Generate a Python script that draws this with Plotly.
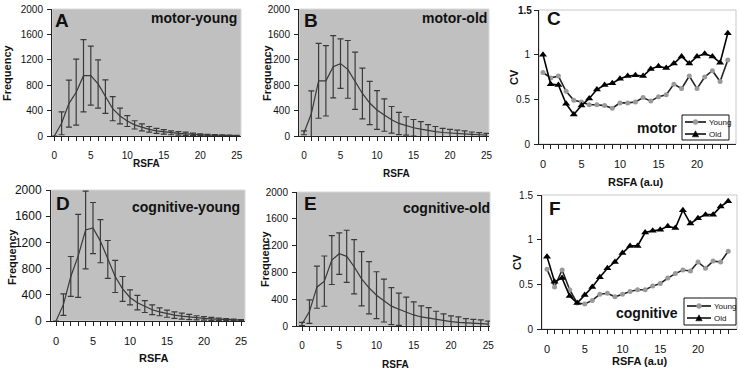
import plotly.graph_objects as go

W, H = 740, 373
FONT = "Arial, Liberation Sans, sans-serif"

rsfa = list(range(26))
rsfa_cv = list(range(25))

# Frequency means and SD (error bars)
motor_young = [0, 200, 510, 690, 950, 950, 820, 620, 430, 315, 235, 175, 135, 105, 80, 65, 50, 42, 35, 25, 20, 15, 12, 10, 8, 5]
motor_young_err = [0, 180, 370, 520, 570, 465, 380, 265, 190, 125, 85, 65, 55, 45, 40, 35, 30, 28, 25, 20, 15, 12, 10, 8, 6, 5]

motor_old = [50, 350, 870, 870, 1090, 1140, 1050, 870, 670, 520, 410, 330, 255, 198, 158, 130, 107, 85, 70, 55, 45, 37, 30, 25, 20, 15]
motor_old_err = [30, 360, 590, 555, 490, 390, 455, 450, 400, 340, 305, 255, 210, 175, 145, 130, 120, 95, 80, 65, 60, 55, 50, 38, 32, 25]

cog_young = [0, 250, 680, 995, 1390, 1420, 1220, 940, 680, 490, 360, 280, 220, 172, 140, 112, 90, 75, 60, 48, 40, 33, 27, 22, 17, 12]
cog_young_err = [0, 165, 305, 635, 595, 390, 330, 290, 245, 190, 115, 110, 90, 75, 60, 55, 50, 45, 40, 32, 28, 22, 18, 16, 12, 8]

cog_old = [30, 215, 580, 670, 985, 1080, 1040, 885, 705, 570, 460, 380, 297, 250, 205, 165, 135, 115, 95, 80, 66, 55, 45, 40, 35, 28]
cog_old_err = [25, 175, 315, 375, 365, 310, 390, 405, 405, 390, 350, 320, 275, 240, 225, 195, 165, 160, 125, 100, 85, 80, 65, 60, 55, 45]

# Coefficient of variation
cv_motor_young = [0.80, 0.74, 0.76, 0.59, 0.49, 0.47, 0.44, 0.44, 0.43, 0.40, 0.46, 0.46, 0.47, 0.52, 0.48, 0.53, 0.55, 0.67, 0.62, 0.76, 0.62, 0.75, 0.82, 0.70, 0.94]
cv_motor_old = [1.00, 0.67, 0.66, 0.45, 0.33, 0.43, 0.51, 0.61, 0.66, 0.68, 0.73, 0.76, 0.77, 0.76, 0.84, 0.87, 0.85, 0.90, 0.98, 0.90, 0.98, 1.01, 0.98, 0.91, 1.24]
cv_cog_young = [0.67, 0.47, 0.66, 0.44, 0.29, 0.28, 0.32, 0.39, 0.40, 0.36, 0.39, 0.42, 0.44, 0.44, 0.48, 0.51, 0.57, 0.62, 0.66, 0.65, 0.75, 0.68, 0.76, 0.75, 0.87]
cv_cog_old = [0.81, 0.53, 0.57, 0.37, 0.29, 0.38, 0.47, 0.58, 0.68, 0.75, 0.85, 0.93, 0.93, 1.08, 1.10, 1.11, 1.15, 1.13, 1.33, 1.18, 1.24, 1.28, 1.28, 1.37, 1.43]

freq_ticks = [0, 400, 800, 1200, 1600, 2000]
cv_ticks = [0, 0.5, 1, 1.5]
cv_ticktext = ["0", "0.5", "1", "1.5"]
cv_max = 1.5
legend_names = ["Young", "Old"]

# panel geometry in pixels: left, right, top, bottom, px of x=0, px per unit
panels = {
    "A": dict(l=52, r=241, t=9, b=136, x0=54.3, ppu=7.3),
    "B": dict(l=299, r=489, t=9, b=136, x0=304, ppu=7.3),
    "C": dict(l=539, r=736, t=10, b=144, x0=543, ppu=7.7),
    "D": dict(l=51, r=245, t=190, b=321, x0=56, ppu=7.4),
    "E": dict(l=297, r=490, t=192, b=326, x0=302, ppu=7.45),
    "F": dict(l=542, r=737, t=195, b=329, x0=547, ppu=7.55),
}
order = ["A", "B", "C", "D", "E", "F"]

fig = go.Figure()
GRAY_BG = "#c0c0c0"
LINE = "#3a3a3a"
YOUNG_MK = "#9a9a9a"

def ax_names(i):
    s = "" if i == 0 else str(i + 1)
    return "x" + s, "y" + s, "xaxis" + s, "yaxis" + s

hist_data = {
    "A": (motor_young, motor_young_err),
    "B": (motor_old, motor_old_err),
    "D": (cog_young, cog_young_err),
    "E": (cog_old, cog_old_err),
}
cv_data = {
    "C": (cv_motor_young, cv_motor_old),
    "F": (cv_cog_young, cv_cog_old),
}
tickfont_y = {"A": 10, "B": 10, "D": 12, "E": 10, "C": 10, "F": 10}
tickfont_x = {"A": 10, "B": 10, "D": 11, "E": 10, "C": 11, "F": 11}

for i, key in enumerate(order):
    p = panels[key]
    xa, ya, xl, yl = ax_names(i)
    dom_x = [p["l"] / W, p["r"] / W]
    dom_y = [1 - p["b"] / H, 1 - p["t"] / H]
    xr = [(p["l"] - p["x0"]) / p["ppu"], (p["r"] - p["x0"]) / p["ppu"]]
    if key in hist_data:
        vals, errs = hist_data[key]
        fig.add_trace(go.Scatter(
            x=rsfa, y=vals, mode="lines", line=dict(color=LINE, width=1.2),
            error_y=dict(type="data", array=errs, visible=True, color=LINE, thickness=1.2, width=3),
            xaxis=xa, yaxis=ya, showlegend=False, cliponaxis=False))
        fig.add_shape(type="rect", xref=xa + " domain", yref=ya + " domain",
                      x0=0, x1=1, y0=0, y1=1, fillcolor=GRAY_BG,
                      line=dict(color="#d8d8d8", width=1), layer="below")
        tickvals = rsfa
        ticktext = [str(v) if v % 5 == 0 else "" for v in rsfa]
        yaxis = dict(range=[0, 2001], tickmode="array", tickvals=freq_ticks,
                     tickfont=dict(family=FONT, size=tickfont_y[key], color="#111"))
    else:
        yv, ov = cv_data[key]
        fig.add_trace(go.Scatter(
            x=rsfa_cv, y=yv, mode="lines+markers", name=legend_names[0],
            line=dict(color="#222", width=1.6),
            marker=dict(symbol="circle", size=5, color=YOUNG_MK),
            xaxis=xa, yaxis=ya, showlegend=False, cliponaxis=False))
        fig.add_trace(go.Scatter(
            x=rsfa_cv, y=ov, mode="lines+markers", name=legend_names[1],
            line=dict(color="#000", width=1.6),
            marker=dict(symbol="triangle-up", size=7, color="#000"),
            xaxis=xa, yaxis=ya, showlegend=False, cliponaxis=False))
        fig.add_shape(type="rect", xref=xa + " domain", yref=ya + " domain",
                      x0=0, x1=1, y0=0, y1=1, fillcolor="white",
                      line=dict(color="#c8c8c8", width=1), layer="below")
        tickvals = rsfa_cv
        ticktext = [str(v) if v % 5 == 0 else "" for v in rsfa_cv]
        # panel C: top label is written as an annotation below (avoids a clipped/duplicated label)
        ytext = list(cv_ticktext)
        if key == "C":
            ytext[-1] = ""
        yaxis = dict(range=[0, cv_max], tickmode="array", tickvals=cv_ticks, ticktext=ytext,
                     tickfont=dict(family=FONT, size=tickfont_y[key], color="#111"))
    fig.layout[xl] = dict(domain=dom_x, range=xr, anchor=ya, tickmode="array",
                          tickvals=tickvals, ticktext=ticktext, ticks="outside",
                          ticklen=4, tickcolor="#222", showline=True, linecolor="#222",
                          linewidth=1, showgrid=False, zeroline=False,
                          ticklabelstandoff=6,
                          tickfont=dict(family=FONT, size=tickfont_x[key], color="#111"))
    yaxis.update(domain=dom_y, anchor=xa, ticks="outside", ticklen=4, tickcolor="#222",
                 showline=True, linecolor="#222", linewidth=1, showgrid=False,
                 zeroline=False, ticklabelstandoff=2)
    fig.layout[yl] = yaxis

annots = []
shapes = []

def px(x):
    return x / W

def py(y):
    return 1 - y / H

def txt(x, y, s, size, xanchor="center", yanchor="middle", angle=0, bold=True):
    t = "<b>" + s + "</b>" if bold else s
    annots.append(dict(x=px(x), y=py(y), xref="paper", yref="paper", text=t,
                       showarrow=False, xanchor=xanchor, yanchor=yanchor, textangle=angle,
                       font=dict(family=FONT, size=size, color="#111")))

# top tick label of panel C, placed on the axis scale
annots.append(dict(x=0, y=cv_max, xref="x3 domain", yref="y3", text="<b>" + cv_ticktext[-1] + "</b>",
                   showarrow=False, xanchor="right", yanchor="middle", xshift=-5,
                   font=dict(family=FONT, size=tickfont_y["C"], color="#111")))

# panel letters
txt(53, 20, "A", 19, xanchor="left")
txt(302, 20, "B", 19, xanchor="left")
txt(545, 18, "C", 19, xanchor="left")
txt(54, 203, "D", 19, xanchor="left")
txt(302, 203, "E", 19, xanchor="left")
txt(547, 208, "F", 19, xanchor="left")

# panel titles
txt(239, 18, "motor-young", 14, xanchor="right")
txt(489, 18, "motor-old", 14, xanchor="right")
txt(242, 207, "cognitive-young", 14, xanchor="right")
txt(492, 208, "cognitive-old", 14, xanchor="right")
txt(657, 128, "motor", 14)
txt(647, 313, "cognitive", 14)

# axis titles
txt(7, 73, "Frequency", 11, angle=-90)
txt(267, 73, "Frequency", 11, angle=-90)
txt(12, 257, "Frequency", 11, angle=-90)
txt(265, 259, "Frequency", 11, angle=-90)
txt(146, 163, "RSFA", 10)
txt(396, 173, "RSFA", 10)
txt(153, 358, "RSFA", 11)
txt(395, 364, "RSFA", 10)
txt(514, 77, "CV", 11, angle=-90)
txt(517, 262, "CV", 11, angle=-90)
txt(636, 182, "RSFA (a.u)", 11)
txt(640, 361, "RSFA (a.u)", 11)

# hand-built compact legends (box, sample lines, markers, labels)
def legend_box(l, r, t, b, rows, line_x0, line_x1, text_x):
    shapes.append(dict(type="rect", xref="paper", yref="paper", x0=px(l), x1=px(r),
                       y0=py(b), y1=py(t), fillcolor="white",
                       line=dict(color="#111", width=1), layer="above"))
    for k, yrow in enumerate(rows):
        shapes.append(dict(type="line", xref="paper", yref="paper",
                           x0=px(line_x0), x1=px(line_x1), y0=py(yrow), y1=py(yrow),
                           line=dict(color="#111", width=1.6), layer="above"))
        cx = (line_x0 + line_x1) / 2
        if k == 0:
            rr = 2.5
            shapes.append(dict(type="circle", xref="paper", yref="paper",
                               x0=px(cx - rr), x1=px(cx + rr), y0=py(yrow + rr), y1=py(yrow - rr),
                               fillcolor=YOUNG_MK, line=dict(color=YOUNG_MK, width=0.5),
                               layer="above"))
        else:
            hw = 3.2
            path = "M {:.5f} {:.5f} L {:.5f} {:.5f} L {:.5f} {:.5f} Z".format(
                px(cx - hw), py(yrow + 2.8), px(cx + hw), py(yrow + 2.8), px(cx), py(yrow - 3.2))
            shapes.append(dict(type="path", xref="paper", yref="paper", path=path,
                               fillcolor="#000", line=dict(color="#000", width=0.5),
                               layer="above"))
        txt(text_x, yrow, legend_names[k], 8, xanchor="left", bold=False)

legend_box(682, 729, 115, 140, [122, 134], 685, 706, 707)
legend_box(684, 736, 298, 325, [306, 318], 687, 711, 712)

fig.update_layout(
    width=W, height=H, margin=dict(l=0, r=0, t=0, b=0, autoexpand=False),
    paper_bgcolor="white", plot_bgcolor="rgba(0,0,0,0)",
    annotations=annots, shapes=list(fig.layout.shapes) + shapes,
    showlegend=False,
    font=dict(family=FONT),
)

fig.write_html("out.html",
               config={"displayModeBar": False},
               post_script="document.body.style.margin='0';document.body.style.padding='0';"
                           "document.body.style.overflow='hidden';")
